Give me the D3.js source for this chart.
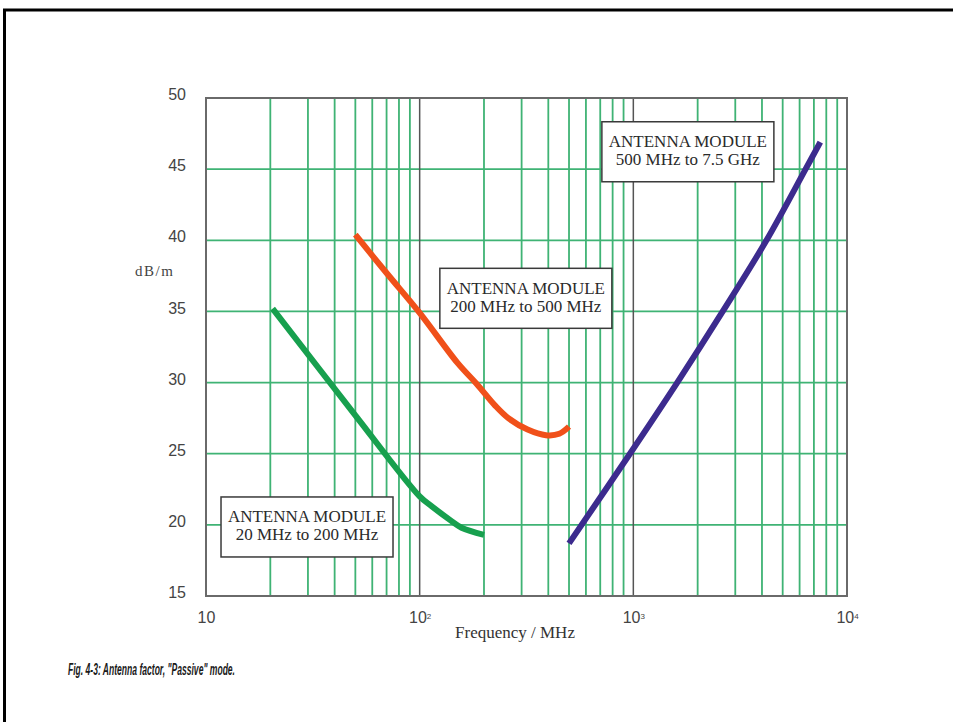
<!DOCTYPE html>
<html>
<head>
<meta charset="utf-8">
<script src="https://cdn.jsdelivr.net/npm/d3@7"></script>
<style>
  body { margin: 0; background: #fff; }
  svg { display: block; }
</style>
</head>
<body>
<div id="chart"></div>
<script>
// values
const lowFreq = [20.5, 50, 100, 114, 140, 157, 200]
const lowDb = [35.2, 27.7, 22.0, 21.3, 20.3, 19.8, 19.3]

const midFreq = [50, 70, 100, 150, 185, 225, 260, 320, 390, 450, 500]
const midDb = [40.4, 37.7, 34.9, 31.4, 29.9, 28.4, 27.5, 26.7, 26.3, 26.4, 26.9]

const highFreq = [500, 964, 1605, 2620, 4200, 6400, 7500]
const highDb = [18.7, 25.0, 30.0, 35.0, 40.0, 45.0, 46.9]

const yTicks = [15, 20, 25, 30, 35, 40, 45, 50]
const xDecades = [10, 100, 1000, 10000]
const xExponents = ["", "2", "3", "4"]

const boxLines = [
  ["ANTENNA MODULE", "20 MHz to 200 MHz"],
  ["ANTENNA MODULE", "200 MHz to 500 MHz"],
  ["ANTENNA MODULE", "500 MHz to 7.5 GHz"]
]

const svgWidth = 953
const svgHeight = 722
const plot = { left: 206, right: 847, top: 98, bottom: 596 }

const gridGreen = "#3fb374"
const serif = "'Liberation Serif', 'Times New Roman', serif"
const sans = "'Liberation Sans', Arial, sans-serif"

const svg = d3.select("#chart").append("svg")
  .attr("width", svgWidth)
  .attr("height", svgHeight)

// page frame (left + top edges)
svg.append("path")
  .attr("d", "M4.5,722 V10 H953")
  .attr("fill", "none")
  .attr("stroke", "#000")
  .attr("stroke-width", 3)

const x = d3.scaleLog().domain([10, 10000]).range([plot.left, plot.right])
const y = d3.scaleLinear().domain([15, 50]).range([plot.bottom, plot.top])

// minor frequency grid 2..9 in each decade
let minor = []
for (let d of xDecades.slice(0, 3)) {
  for (let m = 2; m <= 9; m++) minor.push(d * m)
}

const g = svg.append("g")

g.selectAll("line.vgrid").data(minor).enter().append("line")
  .attr("class", "vgrid")
  .attr("x1", d => x(d)).attr("x2", d => x(d))
  .attr("y1", plot.top).attr("y2", plot.bottom)
  .attr("stroke", gridGreen)
  .attr("stroke-width", 1.8)

g.selectAll("line.hgrid").data(yTicks.slice(1, -1)).enter().append("line")
  .attr("class", "hgrid")
  .attr("x1", plot.left).attr("x2", plot.right)
  .attr("y1", d => y(d)).attr("y2", d => y(d))
  .attr("stroke", gridGreen)
  .attr("stroke-width", 1.8)

g.selectAll("line.decade").data(xDecades.slice(1, 3)).enter().append("line")
  .attr("class", "decade")
  .attr("x1", d => x(d)).attr("x2", d => x(d))
  .attr("y1", plot.top).attr("y2", plot.bottom)
  .attr("stroke", "#555")
  .attr("stroke-width", 1.5)

g.append("rect")
  .attr("x", plot.left).attr("y", plot.top)
  .attr("width", plot.right - plot.left)
  .attr("height", plot.bottom - plot.top)
  .attr("fill", "none")
  .attr("stroke", "#6a6a6a")
  .attr("stroke-width", 2)

// curves
const line = d3.line()
  .x(d => x(d[0]))
  .y(d => y(d[1]))
  .curve(d3.curveCatmullRom.alpha(0.5))

const series = [
  { f: lowFreq, v: lowDb, color: "#17a04e" },
  { f: midFreq, v: midDb, color: "#f0501a" },
  { f: highFreq, v: highDb, color: "#3c2b8e" }
]

g.selectAll("path.curve").data(series).enter().append("path")
  .attr("class", "curve")
  .attr("d", s => line(s.f.map((f, i) => [f, s.v[i]])))
  .attr("fill", "none")
  .attr("stroke", s => s.color)
  .attr("stroke-width", 6)
  .attr("stroke-linejoin", "round")

// label boxes (anchored on data coordinates: centre frequency, top dB)
const boxes = [
  { cx: 29.7, top: 21.96, lines: boxLines[0] },
  { cx: 314, top: 38.03, lines: boxLines[1] },
  { cx: 1800, top: 48.33, lines: boxLines[2] }
]
const boxW = 172, boxH = 60

boxes.forEach(b => {
  const cx = x(b.cx), top = y(b.top)
  g.append("rect")
    .attr("x", cx - boxW / 2).attr("y", top)
    .attr("width", boxW).attr("height", boxH)
    .attr("fill", "#fff")
    .attr("stroke", "#3a3a3a")
    .attr("stroke-width", 1.5)
  b.lines.forEach((t, i) => {
    g.append("text")
      .attr("x", cx).attr("y", top + 25.5 + i * 18)
      .attr("text-anchor", "middle")
      .attr("font-family", serif)
      .attr("font-size", "17px")
      .attr("fill", "#2a2a2a")
      .text(t)
  })
})

// axes (labels only)
const yAxis = svg.append("g")
  .attr("transform", "translate(" + plot.left + ",0)")
  .call(d3.axisLeft(y).tickValues(yTicks).tickSize(0).tickPadding(20))
yAxis.select(".domain").remove()
yAxis.selectAll("text")
  .attr("font-family", sans)
  .attr("font-size", "16px")
  .attr("fill", "#444")
  .attr("dy", "0.1em")

const xAxis = svg.append("g")
  .attr("transform", "translate(0," + plot.bottom + ")")
  .call(d3.axisBottom(x).tickValues(xDecades).tickSize(0).tickPadding(16).tickFormat(() => "10"))
xAxis.select(".domain").remove()
xAxis.selectAll("text")
  .attr("font-family", sans)
  .attr("font-size", "16px")
  .attr("fill", "#444")
  .each(function (d, i) {
    if (xExponents[i]) {
      d3.select(this).append("tspan")
        .attr("font-size", "8px")
        .attr("dy", "-0.6em")
        .text(xExponents[i])
    }
  })

svg.append("text")
  .attr("x", 135).attr("y", 276)
  .attr("font-family", serif)
  .attr("font-size", "15px")
  .attr("fill", "#444")
  .attr("textLength", 38)
  .text("dB/m")

svg.append("text")
  .attr("x", 515).attr("y", 638)
  .attr("text-anchor", "middle")
  .attr("font-family", serif)
  .attr("font-size", "17px")
  .attr("fill", "#333")
  .text("Frequency / MHz")

svg.append("text")
  .attr("x", 68).attr("y", 675)
  .attr("font-family", sans)
  .attr("font-size", "16px")
  .attr("font-weight", "bold")
  .attr("font-style", "italic")
  .attr("fill", "#1a1a1a")
  .attr("textLength", 167)
  .attr("lengthAdjust", "spacingAndGlyphs")
  .text("Fig. 4-3: Antenna factor, \"Passive\" mode.")
</script>
</body>
</html>
